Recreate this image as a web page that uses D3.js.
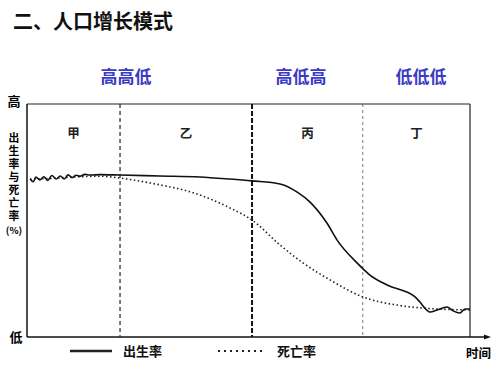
<!DOCTYPE html>
<html>
<head>
<meta charset="utf-8">
<script src="https://cdn.jsdelivr.net/npm/d3@7"></script>
<style>
  body { margin: 0; background: #fff; }
  text { font-family: "Noto Sans CJK SC", "Noto Sans", sans-serif; }
</style>
</head>
<body>
<div id="chart"></div>
<script>
// data (time 0-100, rate 0-100 = low..high)
const stages = ['甲', '乙', '丙', '丁']
const stageBreaks = [0, 21, 50.8, 75.8, 100]
const patterns = ['高高低', '高低高', '低低低']

const birthTime = [0.7, 1.4, 2.0, 2.9, 3.8, 4.7, 5.6, 6.6, 7.5, 8.4, 9.3, 10.2, 11.1, 12.0, 13.1, 14.2, 16.5, 21.0, 30.0, 39.0, 45.8, 50.8, 57.1, 61.0, 63.9, 67.7, 70.0, 74.5, 77.4, 81.3, 87.6, 88.7, 89.8, 91.0, 92.6, 94.8, 96.2, 97.7, 98.9, 100]
const birthRate = [67.8, 66.6, 68.6, 67.4, 68.8, 67.2, 69.3, 67.8, 69.1, 67.8, 69.6, 68.4, 69.4, 69.0, 69.8, 69.5, 69.7, 69.5, 69.1, 68.7, 67.8, 67.0, 65.7, 62.2, 57.9, 48.9, 41.6, 31.8, 26.6, 22.3, 17.2, 15.0, 12.4, 10.7, 11.6, 12.9, 11.2, 10.3, 12.0, 12.0]

const deathTime = [0.7, 5, 10, 16.5, 21.0, 27.8, 39.1, 45.8, 50.8, 57.1, 62.3, 68.4, 75.8, 83.5, 89.4, 100]
const deathRate = [67.8, 68.0, 68.6, 69.0, 68.2, 66.1, 60.9, 55.4, 50.2, 39.5, 31.8, 24.5, 17.2, 13.7, 12.4, 11.6]

const legendLabels = ['出生率', '死亡率']

const width = 500
const height = 375
const plotLeft = 27, plotRight = 470, plotTop = 104, plotBottom = 337

const x = d3.scaleLinear().domain([0, 100]).range([plotLeft, plotRight])
const y = d3.scaleLinear().domain([0, 100]).range([plotBottom, plotTop])

const svg = d3.select('#chart')
    .append('svg')
    .attr('width', width)
    .attr('height', height)

// Title
svg.append('text')
    .attr('x', 13)
    .attr('y', 29)
    .attr('font-size', 20)
    .attr('font-weight', 'bold')
    .attr('fill', '#111')
    .text('二、人口增长模式')

// Pattern labels
const patternX = [126, 301, 421]
svg.selectAll('.pattern')
    .data(patterns)
    .enter()
    .append('text')
    .attr('class', 'pattern')
    .attr('x', (d, i) => patternX[i])
    .attr('y', 83)
    .attr('text-anchor', 'middle')
    .attr('font-size', 17)
    .attr('font-weight', 'bold')
    .attr('fill', '#3b3bc4')
    .text(d => d)

// Frame
svg.append('line')
    .attr('x1', x(0)).attr('x2', x(100))
    .attr('y1', y(100)).attr('y2', y(100))
    .attr('stroke', '#222').attr('stroke-width', 1)
svg.append('line')
    .attr('x1', x(100)).attr('x2', x(100))
    .attr('y1', y(100)).attr('y2', y(0))
    .attr('stroke', '#222').attr('stroke-width', 1.2)
svg.append('line')
    .attr('x1', x(0)).attr('x2', x(0))
    .attr('y1', y(100)).attr('y2', y(0))
    .attr('stroke', '#111').attr('stroke-width', 1.5)
// time axis with arrow
svg.append('line')
    .attr('x1', x(0)).attr('x2', 488)
    .attr('y1', y(0)).attr('y2', y(0))
    .attr('stroke', '#111').attr('stroke-width', 1.5)
svg.append('path')
    .attr('d', 'M491,' + y(0) + ' l-7,-2.5 l0,5 z')
    .attr('fill', '#111')

// Stage dividers
const dividerStyle = [
    { w: 1.2, dash: '4,3', c: '#222' },
    { w: 2, dash: '5,2', c: '#111' },
    { w: 0.8, dash: '3,3', c: '#555' }
]
svg.selectAll('.divider')
    .data(stageBreaks.slice(1, 4))
    .enter()
    .append('line')
    .attr('class', 'divider')
    .attr('x1', d => x(d)).attr('x2', d => x(d))
    .attr('y1', y(100)).attr('y2', y(0))
    .attr('stroke', (d, i) => dividerStyle[i].c)
    .attr('stroke-width', (d, i) => dividerStyle[i].w)
    .attr('stroke-dasharray', (d, i) => dividerStyle[i].dash)

// Stage names
svg.selectAll('.stage')
    .data(stages)
    .enter()
    .append('text')
    .attr('class', 'stage')
    .attr('x', (d, i) => x((stageBreaks[i] + stageBreaks[i + 1]) / 2))
    .attr('y', 138)
    .attr('text-anchor', 'middle')
    .attr('font-size', 12.5)
    .attr('font-weight', 'bold')
    .attr('fill', '#222')
    .text(d => d)

// Y axis labels
svg.append('text')
    .attr('x', 14).attr('y', 106)
    .attr('text-anchor', 'middle')
    .attr('font-size', 13).attr('font-weight', 'bold')
    .text('高')
svg.append('text')
    .attr('x', 16).attr('y', 342)
    .attr('text-anchor', 'middle')
    .attr('font-size', 13).attr('font-weight', 'bold')
    .text('低')
svg.append('text')
    .attr('x', 14)
    .attr('y', 132)
    .attr('writing-mode', 'vertical-rl')
    .attr('letter-spacing', 2.2)
    .attr('font-size', 10.8)
    .attr('font-weight', 'bold')
    .text('出生率与死亡率')
svg.append('text')
    .attr('x', 14).attr('y', 234)
    .attr('text-anchor', 'middle')
    .attr('font-size', 9.5).attr('font-weight', 'bold')
    .text('(%)')

// Lines
const line = d3.line()
    .x(d => x(d[0]))
    .y(d => y(d[1]))
    .curve(d3.curveMonotoneX)

svg.append('path')
    .datum(deathTime.map((t, i) => [t, deathRate[i]]))
    .attr('d', line)
    .attr('fill', 'none')
    .attr('stroke', '#222')
    .attr('stroke-width', 1.6)
    .attr('stroke-dasharray', '1.5,2.5')

svg.append('path')
    .datum(birthTime.map((t, i) => [t, birthRate[i]]))
    .attr('d', line)
    .attr('fill', 'none')
    .attr('stroke', '#111')
    .attr('stroke-width', 1.6)

// Legend
svg.append('line')
    .attr('x1', 70).attr('x2', 112)
    .attr('y1', 351).attr('y2', 351)
    .attr('stroke', '#222').attr('stroke-width', 2.5)
svg.append('line')
    .attr('x1', 218).attr('x2', 265)
    .attr('y1', 351).attr('y2', 351)
    .attr('stroke', '#222').attr('stroke-width', 2)
    .attr('stroke-dasharray', '2,4')
svg.selectAll('.legend')
    .data(legendLabels)
    .enter()
    .append('text')
    .attr('class', 'legend')
    .attr('x', (d, i) => [123, 277][i])
    .attr('y', 356)
    .attr('font-size', 13)
    .attr('font-weight', 'bold')
    .attr('fill', '#111')
    .text(d => d)

svg.append('text')
    .attr('x', 466).attr('y', 358)
    .attr('font-size', 12.5)
    .attr('font-weight', 'bold')
    .text('时间')
</script>
</body>
</html>
